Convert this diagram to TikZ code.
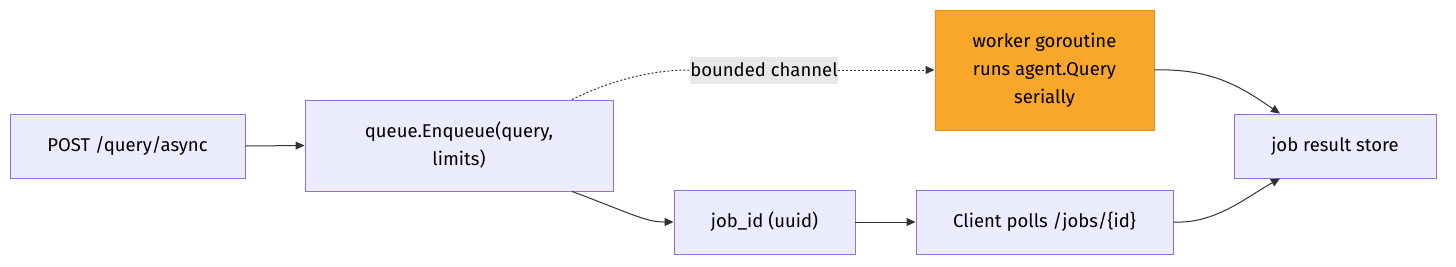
\documentclass[tikz,border=0pt]{standalone}
\usepackage{fontspec}
\setmainfont{Fira Sans}
\usetikzlibrary{arrows.meta}
\definecolor{boxfill}{HTML}{ECECFF}
\definecolor{boxline}{HTML}{9370DB}
\definecolor{orfill}{HTML}{F9A72B}
\definecolor{orline}{HTML}{E98A14}
\definecolor{edge}{HTML}{333333}
\definecolor{lblbg}{HTML}{E8E8E8}
\tikzset{
  box/.style={draw=boxline, fill=boxfill, line width=0.9pt, align=center, font=\fontsize{18.5}{28}\selectfont, inner sep=0pt},
  obox/.style={box, draw=orline, fill=orfill},
  conn/.style={draw=edge, line width=1pt, -{Triangle[length=9pt,width=8pt]}},
  dots/.style={dash pattern=on 2pt off 2pt},
}
\begin{document}
\begin{tikzpicture}[x=1pt,y=-1pt]
\useasboundingbox (0,0) rectangle (1456,266);
\node[box, minimum width=235pt, minimum height=64pt] (post) at (127.5,146) {POST /query/async};
\node[box, minimum width=308pt, minimum height=91pt] (queue) at (459,145.5) {queue.Enqueue(query,\\limits)};
\node[obox, minimum width=219pt, minimum height=120pt] (worker) at (1044.5,70) {worker goroutine\\runs agent.Query\\serially};
\node[box, minimum width=202pt, minimum height=64pt] (store) at (1335,146) {job result store};
\node[box, minimum width=181pt, minimum height=64pt] (jobid) at (764.5,222) {job\_id (uuid)};
\node[box, minimum width=257pt, minimum height=64pt] (client) at (1044.5,222) {Client polls /jobs/\{id\}};
\node[fill=lblbg, inner sep=0.5pt, font=\fontsize{18.5}{22}\selectfont, minimum height=27pt] (lbl) at (764,70) {bounded channel};
\draw[conn] (post.east) -- (queue.west);
\draw[draw=edge, line width=1pt, dots] ([xshift=113pt]queue.north) .. controls (620,76) and (660,70) .. (lbl.west);
\draw[conn, dots] (lbl.east) -- (worker.west);
\draw[conn] ([xshift=113pt]queue.south) .. controls (630,213) and (645,222) .. (jobid.west);
\draw[conn] (jobid.east) -- (client.west);
\draw[conn] (worker.east) .. controls (1215,68) and (1245,90) .. ([xshift=-55pt]store.north);
\draw[conn] (client.east) .. controls (1215,224) and (1245,198) .. ([xshift=-55pt]store.south);
\end{tikzpicture}
\end{document}
